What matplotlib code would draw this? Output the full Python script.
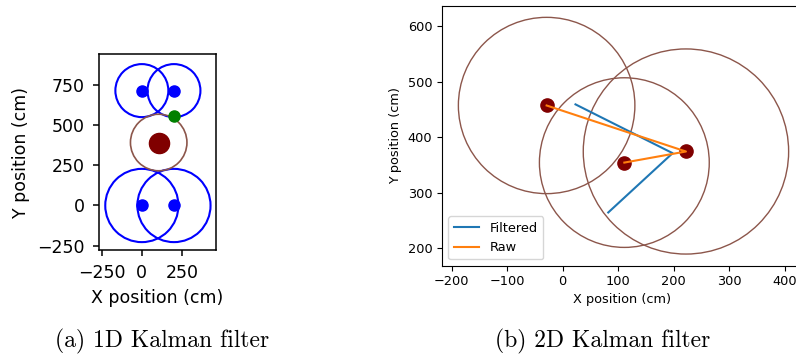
import matplotlib
matplotlib.use("Agg")
import matplotlib.pyplot as plt
from matplotlib.patches import Circle

# ---- (a) 1D Kalman filter data ----
beacon_x = [0, 200, 0, 200]
beacon_y = [715, 715, 0, 0]
beacon_r = [165, 165, 228, 228]
true_x = [200]
true_y = [555]
est1d_x = [105]
est1d_y = [392]
est1d_r = [176]

# ---- (b) 2D Kalman filter data ----
est2d_x = [-29, 111, 222]
est2d_y = [457, 354, 374]
est2d_r = [159, 153, 185]
raw_x = [-29, 222, 111]
raw_y = [457, 374, 354]
filt_x = [23, 198, 82]
filt_y = [459, 371, 264]

captions = ["(a) 1D Kalman filter", "(b) 2D Kalman filter"]

W, H = 796, 356
fig = plt.figure(figsize=(W / 100, H / 100), dpi=100)

def px_axes(l, t, r, b):
    return fig.add_axes([l / W, 1 - b / H, (r - l) / W, (b - t) / H])

# Left panel
axa = px_axes(99, 54.3, 216, 250)
for x, y, r in zip(beacon_x, beacon_y, beacon_r):
    axa.add_patch(Circle((x, y), r, fill=False, edgecolor="blue", lw=1.5))
axa.plot(beacon_x, beacon_y, "o", color="blue", ms=8, ls="none")
axa.plot(true_x, true_y, "o", color="green", ms=8, ls="none")
for x, y, r in zip(est1d_x, est1d_y, est1d_r):
    axa.add_patch(Circle((x, y), r, fill=False, edgecolor="tab:brown", lw=1.2))
axa.plot(est1d_x, est1d_y, "o", color="maroon", ms=14.5, ls="none")
axa.set_xlim(-267, 462)
axa.set_ylim(-277, 941)
axa.set_xticks([-250, 0, 250])
axa.set_yticks([-250, 0, 250, 500, 750])
axa.tick_params(labelsize=12.5, length=4.5, width=1.1, pad=5.5)
axa.set_xlabel("X position (cm)", fontsize=12.5, labelpad=5)
axa.set_ylabel("Y position (cm)", fontsize=12.5, labelpad=5.5)
for s in axa.spines.values():
    s.set_linewidth(1.1)

# Right panel
axb = px_axes(442, 5.7, 801.4, 265.7)
for x, y, r in zip(est2d_x, est2d_y, est2d_r):
    axb.add_patch(Circle((x, y), r, fill=False, edgecolor="tab:brown", lw=1.0))
axb.plot(est2d_x, est2d_y, "o", color="maroon", ms=9.5, ls="none")
axb.plot(filt_x, filt_y, color="tab:blue", lw=1.5, label="Filtered")
axb.plot(raw_x, raw_y, color="tab:orange", lw=1.5, label="Raw")
axb.set_xlim(-217.5, 430)
axb.set_ylim(168, 637)
axb.set_xticks([-200, -100, 0, 100, 200, 300, 400])
axb.set_yticks([200, 300, 400, 500, 600])
axb.tick_params(labelsize=9.3, length=3.5)
axb.set_xlabel("X position (cm)", fontsize=9.3, labelpad=3)
axb.set_ylabel("Y position (cm)", fontsize=9.3)
axb.legend(loc="lower left", fontsize=9.3)

# Captions
fig.text(161.7 / W, 1 - 347.7 / H, captions[0], family="cmr10", fontsize=17,
         ha="center", va="baseline")
fig.text(603 / W, 1 - 347.7 / H, captions[1], family="cmr10", fontsize=17,
         ha="center", va="baseline")

fig.savefig("out.png", dpi=100)
